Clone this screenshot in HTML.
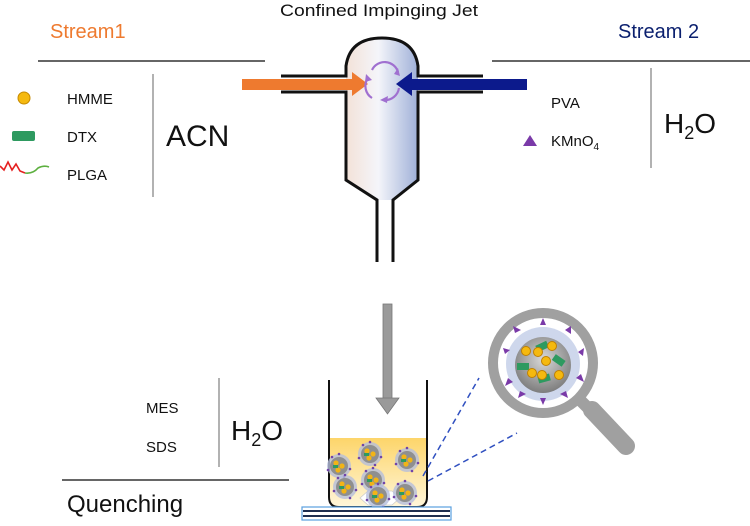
<!DOCTYPE html>
<html><head><meta charset="utf-8"><style>
html,body{margin:0;padding:0;background:#fff;}
svg{display:block;font-family:"Liberation Sans",Arial,sans-serif;}
</style></head><body>
<svg width="750" height="526" viewBox="0 0 750 526" xmlns="http://www.w3.org/2000/svg">
<defs>
<linearGradient id="body" x1="0" x2="1" y1="0" y2="0">
<stop offset="0" stop-color="#f3e2d8"/><stop offset="0.45" stop-color="#f4f5fa"/><stop offset="1" stop-color="#9fb0d8"/>
</linearGradient>
<linearGradient id="liq" x1="0" x2="0" y1="0" y2="1">
<stop offset="0" stop-color="#fdd56a"/><stop offset="1" stop-color="#fff6da"/>
</linearGradient>
<radialGradient id="np" cx="0.5" cy="0.4" r="0.6">
<stop offset="0" stop-color="#d8d8d8"/><stop offset="1" stop-color="#7d7d7d"/>
</radialGradient>
<g id="sp">
<circle r="12" fill="#b5bedc" opacity="0.8"/>
<circle r="9" fill="#8f8f8f"/>
<circle cx="-3" cy="-3" r="2.6" fill="#f2b416"/><circle cx="3" cy="0" r="2.6" fill="#f2b416"/><circle cx="-1" cy="4" r="2.6" fill="#f2b416"/>
<rect x="-6" y="-1" width="5" height="3" fill="#2e9a60"/>
<circle cx="0" cy="-12" r="1.3" fill="#7044a8"/><circle cx="11" cy="3" r="1.3" fill="#7044a8"/><circle cx="-11" cy="4" r="1.3" fill="#7044a8"/><circle cx="5" cy="11" r="1.3" fill="#7044a8"/><circle cx="-7" cy="-9" r="1.3" fill="#7044a8"/>
</g>
</defs>

<!-- Left panel -->
<text x="50" y="38" font-size="20" fill="#ee7a2f">Stream1</text>
<line x1="38" y1="61" x2="265" y2="61" stroke="#333" stroke-width="1.5"/>
<circle cx="24" cy="98" r="6" fill="#f5b90f" stroke="#c68a00" stroke-width="1"/>
<text x="67" y="104" font-size="15" fill="#111">HMME</text>
<rect x="12" y="131" width="23" height="10" rx="2" fill="#2e9a60"/>
<text x="67" y="142" font-size="15" fill="#111">DTX</text>
<path d="M0 166 L4 170 L8 162 L12 170 L16 164 L20 171 L25 173" fill="none" stroke="#e52020" stroke-width="1.6"/>
<path d="M25 173 Q33 174 38 168 Q44 165 49 167" fill="none" stroke="#5db040" stroke-width="1.6"/>
<text x="67" y="180" font-size="15" fill="#111">PLGA</text>
<line x1="153" y1="74" x2="153" y2="197" stroke="#999" stroke-width="1.5"/>
<text x="166" y="146" font-size="30" fill="#111">ACN</text>

<!-- Right panel -->
<text x="618" y="38" font-size="20" fill="#0a1f6e">Stream 2</text>
<line x1="492" y1="61" x2="750" y2="61" stroke="#333" stroke-width="1.5"/>
<text x="551" y="108" font-size="15" fill="#111">PVA</text>
<polygon points="530,135 523,146 537,146" fill="#7a3aa8"/>
<text x="551" y="146" font-size="15" fill="#111">KMnO<tspan font-size="10" dy="4">4</tspan></text>
<line x1="651" y1="68" x2="651" y2="168" stroke="#999" stroke-width="1.5"/>
<text x="664" y="133" font-size="28" fill="#111">H<tspan font-size="18" dy="6">2</tspan><tspan dy="-6">O</tspan></text>

<!-- Title -->
<text x="280" y="16" font-size="17" fill="#111" textLength="198" lengthAdjust="spacingAndGlyphs">Confined Impinging  Jet</text>

<!-- Device -->
<path d="M346 75 L346 66 Q350 38 382 38 Q414 38 418 66 L418 180 L393 200 L377 200 L346 180 Z" fill="url(#body)"/>
<path d="M281 76 L346 76 L346 66 Q350 38 382 38 Q414 38 418 66 L418 76 L483 76" fill="none" stroke="#111" stroke-width="3"/>
<path d="M281 92 L346 92 L346 180 L377 200 L377 262" fill="none" stroke="#111" stroke-width="3"/>
<path d="M483 92 L418 92 L418 180 L393 200 L393 262" fill="none" stroke="#111" stroke-width="3"/>
<!-- Arrows -->
<rect x="242" y="79" width="112" height="11" fill="#ee7a2f"/>
<polygon points="352,72 368,84 352,96" fill="#ee7a2f"/>
<rect x="410" y="79" width="117" height="11" fill="#0c1a8c"/>
<polygon points="412,72 396,84 412,96" fill="#0c1a8c"/>
<!-- swirl -->
<g fill="none" stroke="#a070d0" stroke-width="2.2">
<path d="M372 70 A14 14 0 0 1 398 72"/>
<path d="M399 88 A14 14 0 0 1 384 100"/>
<path d="M372 98 A14 14 0 0 1 368 78"/>
</g>
<polygon points="398,68 400,76 394,74" fill="#a070d0"/>
<polygon points="380,100 388,96 387,103" fill="#a070d0"/>
<polygon points="366,74 372,80 365,82" fill="#a070d0"/>

<!-- gray arrow -->
<rect x="383" y="304" width="9" height="95" fill="#9a9a9a" stroke="#777" stroke-width="0.8"/>
<polygon points="376,398 399,398 387.5,414" fill="#9a9a9a" stroke="#777" stroke-width="0.8"/>

<!-- Beaker -->
<path d="M329 438 L427 438 L427 497 Q427 507 417 507 L339 507 Q329 507 329 497 Z" fill="url(#liq)"/>
<path d="M329 380 L329 497 Q329 507 339 507 L417 507 Q427 507 427 497 L427 380" fill="none" stroke="#111" stroke-width="2"/>
<polygon points="360,498 368,491 392,491 400,498 392,505 368,505" fill="#fff" stroke="#ccc" stroke-width="0.8"/>
<use href="#sp" x="339" y="466"/>
<use href="#sp" x="370" y="454"/>
<use href="#sp" x="407" y="460"/>
<use href="#sp" x="373" y="480"/>
<use href="#sp" x="345" y="487"/>
<use href="#sp" x="378" y="496"/>
<use href="#sp" x="405" y="493"/>
<rect x="302" y="507" width="149" height="13" fill="#fff" stroke="#5aa0e0" stroke-width="1.2"/>
<line x1="303" y1="511" x2="450" y2="511" stroke="#1e2e50" stroke-width="2"/>
<line x1="303" y1="516" x2="450" y2="516" stroke="#1e2e50" stroke-width="2"/>

<!-- dashed lines -->
<line x1="423" y1="476" x2="479" y2="378" stroke="#3050c0" stroke-width="1.5" stroke-dasharray="6,4"/>
<line x1="428" y1="481" x2="517" y2="433" stroke="#3050c0" stroke-width="1.5" stroke-dasharray="6,4"/>

<!-- Magnifier -->
<line x1="592" y1="410" x2="626" y2="446" stroke="#a0a0a0" stroke-width="18" stroke-linecap="round"/>
<line x1="580" y1="400" x2="594" y2="414" stroke="#a0a0a0" stroke-width="12"/>
<circle cx="543" cy="363" r="50" fill="#fff" stroke="#a0a0a0" stroke-width="10"/>
<circle cx="543" cy="364" r="37" fill="#c9d3ea" opacity="0.9"/>
<circle cx="543" cy="365" r="28" fill="url(#np)"/>
<g fill="#7a3aa8">
<polygon points="540,325 546,325 543,318"/>
<polygon points="515,333 521,330 513,326"/>
<polygon points="565,330 571,334 571,326"/>
<polygon points="505,354 510,350 503,348"/>
<polygon points="578,352 583,356 584,348"/>
<polygon points="508,378 513,382 505,386"/>
<polygon points="576,378 581,374 584,382"/>
<polygon points="520,391 526,394 518,398"/>
<polygon points="540,398 546,398 543,405"/>
<polygon points="560,394 566,391 568,398"/>
</g>
<g fill="#2e9a60">
<rect x="517" y="363" width="12" height="7"/>
<rect x="536" y="343" width="12" height="7" transform="rotate(-25 542 346)"/>
<rect x="553" y="357" width="12" height="7" transform="rotate(35 559 360)"/>
<rect x="538" y="375" width="12" height="7" transform="rotate(-15 544 378)"/>
</g>
<g fill="#f5b90f" stroke="#c08000" stroke-width="1">
<circle cx="526" cy="351" r="4.5"/><circle cx="538" cy="352" r="4.5"/><circle cx="552" cy="346" r="4.5"/>
<circle cx="546" cy="361" r="4.5"/><circle cx="532" cy="373" r="4.5"/><circle cx="542" cy="375" r="4.5"/><circle cx="559" cy="375" r="4.5"/>
</g>

<!-- Bottom left -->
<text x="146" y="413" font-size="15" fill="#111">MES</text>
<text x="146" y="452" font-size="15" fill="#111">SDS</text>
<line x1="219" y1="378" x2="219" y2="467" stroke="#999" stroke-width="1.5"/>
<text x="231" y="440" font-size="28" fill="#111">H<tspan font-size="18" dy="6">2</tspan><tspan dy="-6">O</tspan></text>
<line x1="62" y1="480" x2="289" y2="480" stroke="#333" stroke-width="1.5"/>
<text x="67" y="512" font-size="24" fill="#111">Quenching</text>
</svg>
</body></html>
